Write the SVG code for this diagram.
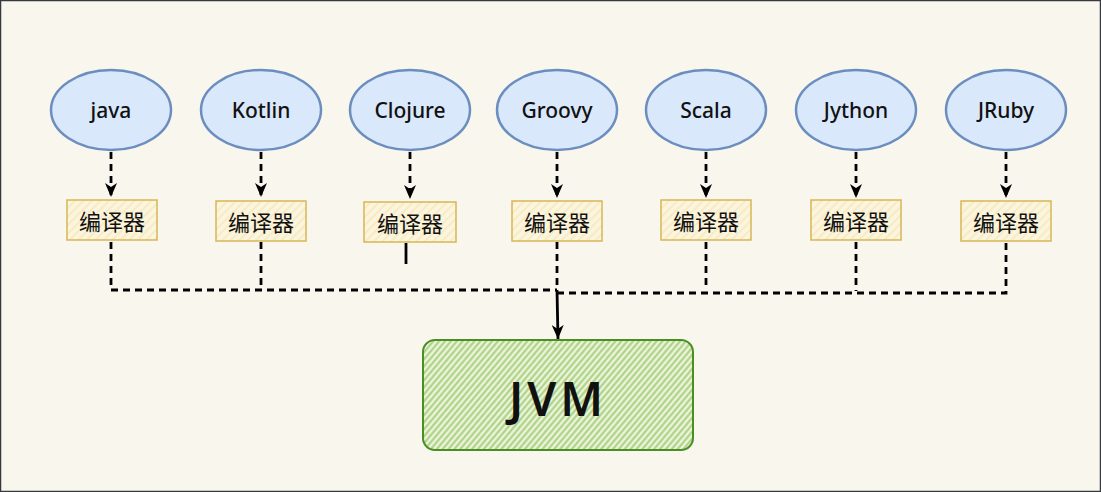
<svg xmlns="http://www.w3.org/2000/svg" width="1101" height="492" viewBox="0 0 1101 492">
<defs>
<style>
.lang ellipse{fill:#dae8fc;stroke:#6c8ebf;stroke-width:2.5}
.lang text{font-family:'Comic Sans MS','Noto Sans','Noto Sans CJK SC',sans-serif;font-size:21px;font-weight:500;fill:#111;text-anchor:middle;dominant-baseline:central}
.comp rect{fill:url(#hatchY);stroke:#d6b656;stroke-width:1.5}
.comp text{font-family:'Noto Sans CJK SC','Noto Sans',sans-serif;font-size:22px;fill:#111;text-anchor:middle;dominant-baseline:central}
.dash{fill:none;stroke:#000;stroke-width:2.8;stroke-dasharray:7 5}
.solid{fill:none;stroke:#000;stroke-width:2.8}
</style>
<pattern id="hatchY" patternUnits="userSpaceOnUse" width="6" height="6" patternTransform="rotate(-45)">
<rect width="6" height="6" fill="#fcf5de"/>
<line x1="0" y1="3" x2="6" y2="3" stroke="#f6e8bd" stroke-width="1.5"/>
</pattern>
<pattern id="hatchG" patternUnits="userSpaceOnUse" width="4.5" height="4.5" patternTransform="rotate(-50)">
<rect width="4.5" height="4.5" fill="#eef3dc"/>
<line x1="0" y1="2.25" x2="4.5" y2="2.25" stroke="#a6d17f" stroke-width="2"/>
</pattern>
<marker id="arrD" markerWidth="14" markerHeight="12" refX="14" refY="6" orient="auto" markerUnits="userSpaceOnUse">
<path d="M0,0 L14,6 L0,12 L4,6 Z" fill="#000"/>
</marker>
</defs>
<rect x="0.5" y="0.5" width="1100" height="491" fill="#f9f6ee" stroke="#36393d" stroke-width="1.5"/>

<g id="connectors">
<path class="dash" d="M111,152 V197" marker-end="url(#arrD)"/>
<path class="dash" d="M261,152 V197" marker-end="url(#arrD)"/>
<path class="dash" d="M410,152 V199" marker-end="url(#arrD)"/>
<path class="dash" d="M557,152 V198" marker-end="url(#arrD)"/>
<path class="dash" d="M706,152 V198" marker-end="url(#arrD)"/>
<path class="dash" d="M856,152 V198" marker-end="url(#arrD)"/>
<path class="dash" d="M1006,152 V198" marker-end="url(#arrD)"/>

<path class="dash" d="M111,242 V290 H557"/>
<path class="dash" d="M261,242 V288"/>
<path class="solid" d="M406,243 V264"/>
<path class="dash" d="M557,242 V290"/>
<path class="dash" d="M706,242 V290"/>
<path class="dash" d="M856,242 V291"/>
<path class="dash" d="M1006,243 V293 H557"/>
<path class="solid" d="M557,290 L558,339" marker-end="url(#arrD)"/>
</g>

<g id="java" class="lang"><ellipse cx="111" cy="110" rx="60" ry="40"/><text x="111" y="110">java</text></g>
<g id="kotlin" class="lang"><ellipse cx="261" cy="110" rx="60" ry="40"/><text x="261" y="110">Kotlin</text></g>
<g id="clojure" class="lang"><ellipse cx="410" cy="110" rx="60" ry="40"/><text x="410" y="110">Clojure</text></g>
<g id="groovy" class="lang"><ellipse cx="557" cy="110" rx="60" ry="40"/><text x="557" y="110">Groovy</text></g>
<g id="scala" class="lang"><ellipse cx="706" cy="110" rx="60" ry="40"/><text x="706" y="110">Scala</text></g>
<g id="jython" class="lang"><ellipse cx="856" cy="110" rx="60" ry="40"/><text x="856" y="110">Jython</text></g>
<g id="jruby" class="lang"><ellipse cx="1006" cy="110" rx="60" ry="40"/><text x="1006" y="110">JRuby</text></g>

<g id="comp-java" class="comp"><rect x="67" y="200" width="90" height="40"/><text x="112" y="220">编译器</text></g>
<g id="comp-kotlin" class="comp"><rect x="216" y="201" width="90" height="40"/><text x="261" y="221">编译器</text></g>
<g id="comp-clojure" class="comp"><rect x="364" y="202" width="92" height="40"/><text x="410" y="222">编译器</text></g>
<g id="comp-groovy" class="comp"><rect x="512" y="201" width="90" height="40"/><text x="557" y="221">编译器</text></g>
<g id="comp-scala" class="comp"><rect x="661" y="200" width="90" height="40"/><text x="706" y="220">编译器</text></g>
<g id="comp-jython" class="comp"><rect x="811" y="200" width="90" height="40"/><text x="856" y="220">编译器</text></g>
<g id="comp-jruby" class="comp"><rect x="961" y="201" width="90" height="40"/><text x="1006" y="221">编译器</text></g>

<g id="jvm">
<rect x="423" y="340" width="270" height="110" rx="12" fill="url(#hatchG)" stroke="#4a8f22" stroke-width="2"/>
<text x="558" y="398" font-family="'Comic Sans MS','Noto Sans',sans-serif" font-size="46" font-weight="600" fill="#111" text-anchor="middle" dominant-baseline="central" letter-spacing="4">JVM</text>
</g>
</svg>
